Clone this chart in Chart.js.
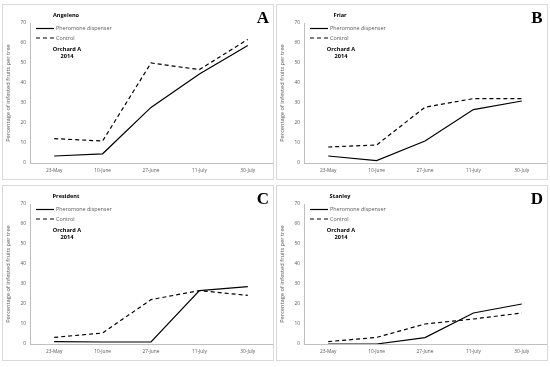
<!DOCTYPE html>
<html>
<head>
<meta charset="utf-8">
<script src="https://cdn.jsdelivr.net/npm/chart.js@4/dist/chart.umd.min.js"></script>
<style>
  body { margin: 0; background: #fff; width: 550px; height: 367px; position: relative; overflow: hidden; }
  .panel { position: absolute; width: 272px; height: 176px; border: 1px solid #d9d9d9; box-sizing: border-box; background: #fff; }
  .panel canvas { position: absolute; left: 0; top: 0; }
</style>
</head>
<body>
<div class="panel" style="left:2px;top:4px"><canvas id="c0" width="272" height="176"></canvas></div>
<div class="panel" style="left:276px;top:4px"><canvas id="c1" width="272" height="176"></canvas></div>
<div class="panel" style="left:2px;top:185px"><canvas id="c2" width="272" height="176"></canvas></div>
<div class="panel" style="left:276px;top:185px"><canvas id="c3" width="272" height="176"></canvas></div>
<script>
// dates de relevé
const dates = ["23-May", "10-June", "27-June", "11-July", "30-July"];

// variétés et lettres des panneaux
const varietes = ["Angeleno", "Friar", "President", "Stanley"];
const lettres = ["A", "B", "C", "D"];

// pourcentage de fruits infestés
const pheromone = [
  [3.5, 4.6, 27.8, 44.5, 58.7],
  [3.5, 1.2, 11, 26.7, 31],
  [1.2, 1, 1, 26.7, 28.7],
  [0, 0, 3.2, 15.5, 20]
];
const controle = [
  [12.2, 11, 50, 46.7, 61.8],
  [8, 9, 27.9, 32.2, 32.2],
  [3.3, 5.5, 22.2, 26.7, 24.3],
  [1.2, 3.3, 10, 12.5, 15.5]
];

const yTicks = [0, 10, 20, 30, 40, 50, 60, 70];

const gris = "#595959";
const police = "'Open Sans', sans-serif";

// textes dans le graphique : titre, légende, verger, lettre
const textesPanneau = {
  id: "textesPanneau",
  afterDraw(chart, args, opts) {
    const ctx = chart.ctx;
    ctx.save();
    ctx.textBaseline = "middle";
    ctx.fillStyle = "#000";
    ctx.textAlign = "center";
    ctx.font = "bold 5.6px " + police;
    ctx.fillText(opts.titre, 63, 10);
    ctx.fillText("Orchard A", 64, 44);
    ctx.fillText("2014", 64, 51);

    // légende
    ctx.strokeStyle = "#000";
    ctx.lineWidth = 1.2;
    ctx.beginPath();
    ctx.moveTo(33, 23.5); ctx.lineTo(51, 23.5);
    ctx.stroke();
    ctx.setLineDash([4, 3]);
    ctx.beginPath();
    ctx.moveTo(33, 33); ctx.lineTo(51, 33);
    ctx.stroke();
    ctx.setLineDash([]);
    ctx.textAlign = "left";
    ctx.fillStyle = gris;
    ctx.font = "5.4px " + police;
    ctx.fillText("Pheromone dispenser", 53, 23.5);
    ctx.fillText("Control", 53, 33);

    // lettre
    ctx.fillStyle = "#000";
    ctx.textAlign = "center";
    ctx.textBaseline = "alphabetic";
    ctx.font = "bold 17px 'Liberation Serif', serif";
    ctx.fillText(opts.lettre, 260, 18);
    ctx.restore();
  }
};

for (let i = 0; i < 4; i++) {
  new Chart(document.getElementById("c" + i), {
    type: "line",
    data: {
      labels: dates,
      datasets: [
        { label: "Pheromone dispenser", data: pheromone[i], borderColor: "#000", borderWidth: 1.2, pointRadius: 0, tension: 0 },
        { label: "Control", data: controle[i], borderColor: "#000", borderWidth: 1.2, borderDash: [4, 3], pointRadius: 0, tension: 0 }
      ]
    },
    options: {
      responsive: false,
      animation: false,
      layout: { padding: { left: 2, top: 18, right: 3, bottom: 4 } },
      plugins: {
        legend: { display: false },
        tooltip: { enabled: false },
        textesPanneau: { titre: varietes[i], lettre: lettres[i] }
      },
      scales: {
        x: {
          offset: true,
          grid: { display: false, drawTicks: false },
          border: { display: true, color: "#bfbfbf" },
          ticks: { color: gris, font: { size: 4.8, family: police }, maxRotation: 0, padding: 5 },
          afterFit: s => { s.height = 14; }
        },
        y: {
          min: 0, max: 70,
          grid: { display: false, drawTicks: false },
          border: { display: true, color: "#bfbfbf" },
          afterBuildTicks: s => { s.ticks = yTicks.map(v => ({ value: v })); },
          ticks: { color: gris, font: { size: 4.8, family: police }, padding: 4 },
          title: { display: true, text: "Percentage of infested fruits per tree", color: gris, font: { size: 5.7, family: police }, padding: 0 },
          afterFit: s => { s.width = 25; }
        }
      }
    },
    plugins: [textesPanneau]
  });
}
</script>
</body>
</html>
